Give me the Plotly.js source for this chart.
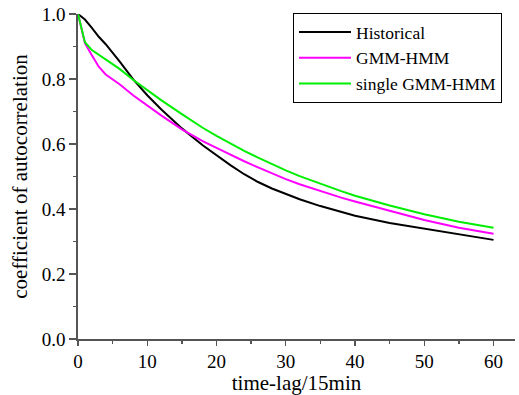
<!DOCTYPE html>
<html>
<head>
<meta charset="utf-8">
<script src="https://cdn.plot.ly/plotly-3.0.1.min.js"></script>
<style>html,body{margin:0;padding:0;background:#fff;}#chart{width:519px;height:395px;}</style>
</head>
<body>
<div id="chart"></div>
<script>
const lags = [0, 1, 2, 3, 4, 5, 6, 8, 10, 12, 15, 18, 20, 22, 24, 26, 28, 30, 32, 35, 38, 40, 45, 50, 55, 60];
const historical = [1.0, 0.983, 0.957, 0.930, 0.907, 0.882, 0.854, 0.798, 0.750, 0.707, 0.648, 0.596, 0.565, 0.535, 0.507, 0.483, 0.463, 0.446, 0.430, 0.409, 0.390, 0.379, 0.357, 0.339, 0.321, 0.305];
const gmmHmm = [1.0, 0.910, 0.873, 0.838, 0.814, 0.799, 0.784, 0.749, 0.718, 0.688, 0.645, 0.609, 0.588, 0.567, 0.547, 0.528, 0.509, 0.492, 0.476, 0.455, 0.435, 0.423, 0.394, 0.366, 0.342, 0.324];
const singleGmmHmm = [1.0, 0.913, 0.889, 0.874, 0.859, 0.845, 0.831, 0.797, 0.765, 0.735, 0.692, 0.650, 0.625, 0.601, 0.579, 0.558, 0.538, 0.519, 0.501, 0.477, 0.455, 0.441, 0.411, 0.384, 0.361, 0.342];
const seriesNames = ["Historical", "GMM-HMM", "single GMM-HMM"];
const seriesColors = ["#000000", "#ff00ff", "#00ee00"];
const xTitle = "time-lag/15min";
const yTitle = "coefficient of autocorrelation";

const ys = [historical, gmmHmm, singleGmmHmm];
const traces = ys.map((y, i) => ({
  x: lags, y: y, type: "scatter", mode: "lines", name: seriesNames[i],
  line: {color: seriesColors[i], width: 2}
}));

const font = "Liberation Serif, Times New Roman, serif";
const axisColor = "#555555";
const layout = {
  width: 519, height: 395,
  margin: {l: 78, r: 4, t: 14, b: 56},
  paper_bgcolor: "#ffffff", plot_bgcolor: "#ffffff",
  font: {family: font, size: 19, color: "#000"},
  showlegend: true,
  legend: {
    x: 0.492, y: 1.003, xanchor: "left", yanchor: "top",
    bordercolor: "#000", borderwidth: 1, bgcolor: "#fff",
    font: {family: font, size: 17.5, color: "#000"},
    itemwidth: 52, tracegroupgap: 0
  },
  xaxis: {
    range: [0, 63.1], dtick: 10, tick0: 0,
    showgrid: false, zeroline: false,
    showline: true, linecolor: axisColor, linewidth: 1.6,
    ticks: "outside", ticklen: 5, tickwidth: 1.3, tickcolor: axisColor,
    minor: {dtick: 5, ticks: "outside", ticklen: 3, tickwidth: 1.3, tickcolor: axisColor, showgrid: false},
    tickfont: {family: font, size: 19, color: "#000"},
    title: {text: xTitle, font: {family: font, size: 21, color: "#000"}, standoff: 0},
    automargin: false
  },
  yaxis: {
    range: [0, 1], dtick: 0.2, tick0: 0, tickformat: ".1f",
    showgrid: false, zeroline: false,
    showline: true, linecolor: axisColor, linewidth: 1.6,
    ticks: "outside", ticklen: 7, tickwidth: 1.3, tickcolor: axisColor,
    minor: {dtick: 0.1, ticks: "outside", ticklen: 3, tickwidth: 1.3, tickcolor: axisColor, showgrid: false},
    tickfont: {family: font, size: 19, color: "#000"},
    title: {text: yTitle, font: {family: font, size: 21, color: "#000"}, standoff: 8},
    automargin: false
  }
};

Plotly.newPlot("chart", traces, layout, {displayModeBar: false, staticPlot: true});
</script>
</body>
</html>
